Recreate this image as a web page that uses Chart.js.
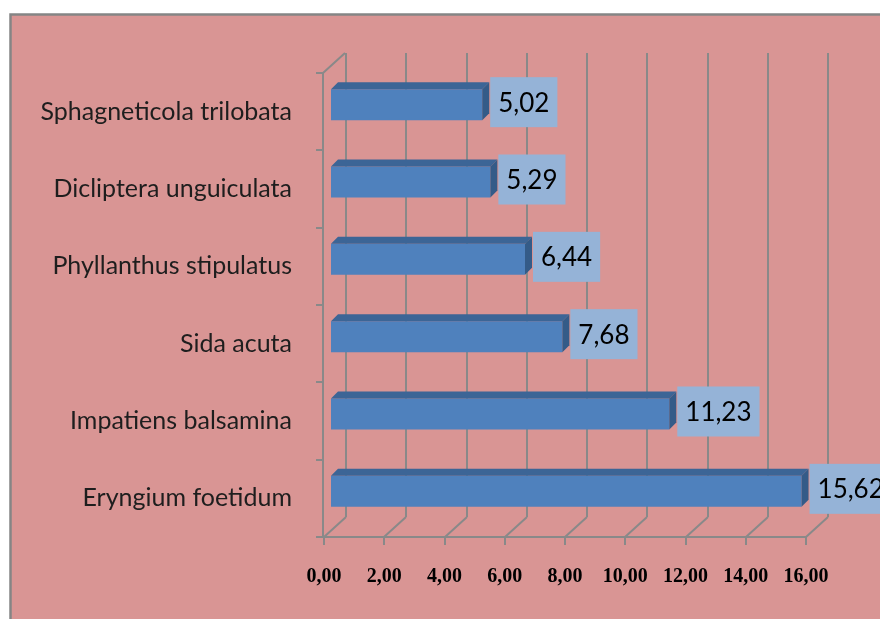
<!DOCTYPE html>
<html>
<head>
<meta charset="utf-8">
<script src="https://cdn.jsdelivr.net/npm/chart.js@4.4.1/dist/chart.umd.min.js"></script>
<style>
  html, body { margin: 0; padding: 0; background: #ffffff; }
  #wrap { position: relative; width: 880px; height: 619px; }
</style>
</head>
<body>
<div id="wrap"><canvas id="c" width="880" height="619"></canvas></div>
<script>
// ---- data ----
const categories = [
  "Sphagneticola trilobata",
  "Dicliptera unguiculata",
  "Phyllanthus stipulatus",
  "Sida acuta",
  "Impatiens balsamina",
  "Eryngium foetidum"
];
const values = [5.02, 5.29, 6.44, 7.68, 11.23, 15.62];
const xTickValues = [0, 2, 4, 6, 8, 10, 12, 14, 16];

// ---- style ----
const BG = '#D99594';
const FRAME = '#858585';
const GRID = '#898989';
const BAR_FRONT = '#4F81BD';
const BAR_TOP = '#3C6596';
const BAR_SIDE = '#345B88';
const LABEL_BOX = '#95B3D7';
const DEPTH_X = 22, DEPTH_Y = -20;   // wall depth
const BAR_OFF_X = 7, BAR_OFF_Y = -7; // bar front plane offset
const BAR_D = 7;                     // bar depth

const fmt = v => v.toFixed(2).replace('.', ',');

const pseudo3d = {
  id: 'pseudo3d',
  beforeDraw(chart) {
    const ctx = chart.ctx;
    ctx.save();
    ctx.fillStyle = '#ffffff';
    ctx.fillRect(0, 0, chart.width, chart.height);
    ctx.fillStyle = BG;
    ctx.fillRect(10, 14, chart.width - 10, chart.height - 14);
    ctx.strokeStyle = FRAME;
    ctx.lineWidth = 2.5;
    ctx.beginPath();
    ctx.moveTo(10.5, chart.height);
    ctx.lineTo(10.5, 14.5);
    ctx.lineTo(chart.width, 14.5);
    ctx.stroke();
    ctx.restore();
  },
  beforeDatasetsDraw(chart) {
    const ctx = chart.ctx;
    const xs = chart.scales.x;
    const a = chart.chartArea;
    const lx = a.left - 1;
    ctx.save();
    ctx.strokeStyle = GRID;
    ctx.lineWidth = 2;
    ctx.beginPath();
    xTickValues.forEach(v => {
      const fx = Math.round(xs.getPixelForValue(v));
      ctx.moveTo(fx + DEPTH_X, a.top + DEPTH_Y);
      ctx.lineTo(fx + DEPTH_X, a.bottom + DEPTH_Y);
      ctx.moveTo(fx, a.bottom);
      ctx.lineTo(fx + DEPTH_X, a.bottom + DEPTH_Y);
      ctx.moveTo(fx, a.bottom);
      ctx.lineTo(fx, a.bottom + 8);
    });
    ctx.moveTo(lx, a.bottom);
    ctx.lineTo(a.right, a.bottom);
    ctx.moveTo(lx, a.top);
    ctx.lineTo(lx, a.bottom);
    ctx.moveTo(lx, a.top);
    ctx.lineTo(lx + DEPTH_X, a.top + DEPTH_Y);
    const n = categories.length;
    for (let i = 0; i <= n; i++) {
      const y = Math.round(a.top + i * (a.bottom - a.top) / n);
      ctx.moveTo(lx - 7, y);
      ctx.lineTo(lx, y);
    }
    ctx.stroke();
    ctx.restore();
    ctx.save();
    ctx.translate(BAR_OFF_X, BAR_OFF_Y);
  },
  afterDatasetsDraw(chart) {
    const ctx = chart.ctx;
    ctx.restore();
    const meta = chart.getDatasetMeta(0);
    ctx.save();
    meta.data.forEach((bar, i) => {
      const p = bar.getProps(['x', 'y', 'base', 'height'], true);
      const x0 = p.base + BAR_OFF_X, x1 = p.x + BAR_OFF_X;
      const top = p.y - p.height / 2 + BAR_OFF_Y;
      const bot = p.y + p.height / 2 + BAR_OFF_Y;
      ctx.fillStyle = BAR_TOP;
      ctx.beginPath();
      ctx.moveTo(x0, top);
      ctx.lineTo(x0 + BAR_D, top - BAR_D);
      ctx.lineTo(x1 + BAR_D, top - BAR_D);
      ctx.lineTo(x1, top);
      ctx.closePath();
      ctx.fill();
      ctx.fillStyle = BAR_SIDE;
      ctx.beginPath();
      ctx.moveTo(x1, top);
      ctx.lineTo(x1 + BAR_D, top - BAR_D);
      ctx.lineTo(x1 + BAR_D, bot - BAR_D);
      ctx.lineTo(x1, bot);
      ctx.closePath();
      ctx.fill();
      ctx.font = '26px Lato';
      const txt = fmt(values[i]);
      const tw = ctx.measureText(txt).width;
      const bw = tw + 16, bh = 50;
      const bx = x1 + 8;
      const cy = (top - BAR_D + bot) / 2 + 1;
      ctx.fillStyle = LABEL_BOX;
      ctx.fillRect(bx, cy - bh / 2, bw, bh);
      ctx.fillStyle = '#000000';
      ctx.textAlign = 'left';
      ctx.textBaseline = 'middle';
      ctx.fillText(txt, bx + 8, cy + 1);
    });
    ctx.restore();
  }
};

new Chart(document.getElementById('c'), {
  type: 'bar',
  data: {
    labels: categories,
    datasets: [{
      data: values,
      backgroundColor: BAR_FRONT,
      borderWidth: 0,
      categoryPercentage: 1,
      barPercentage: 0.4
    }]
  },
  plugins: [pseudo3d],
  options: {
    indexAxis: 'y',
    responsive: false,
    animation: false,
    devicePixelRatio: 1,
    layout: { padding: { left: 0, right: 74, top: 73, bottom: 0 } },
    plugins: { legend: { display: false }, tooltip: { enabled: false } },
    scales: {
      x: {
        min: 0, max: 16,
        afterFit(s) { s.height = 82; },
        afterBuildTicks(s) { s.ticks = xTickValues.map(v => ({ value: v })); },
        grid: { display: false, drawTicks: false },
        border: { display: false },
        ticks: {
          padding: 28,
          color: '#000000',
          font: { family: 'Liberation Serif', size: 20, weight: 'bold' },
          callback: v => fmt(v)
        }
      },
      y: {
        afterFit(s) { s.width = 324; },
        grid: { display: false, drawTicks: false },
        border: { display: false },
        ticks: {
          padding: 32,
          color: '#1e1e1e',
          font: { family: 'Lato', size: 25 }
        }
      }
    }
  }
});
</script>
</body>
</html>
